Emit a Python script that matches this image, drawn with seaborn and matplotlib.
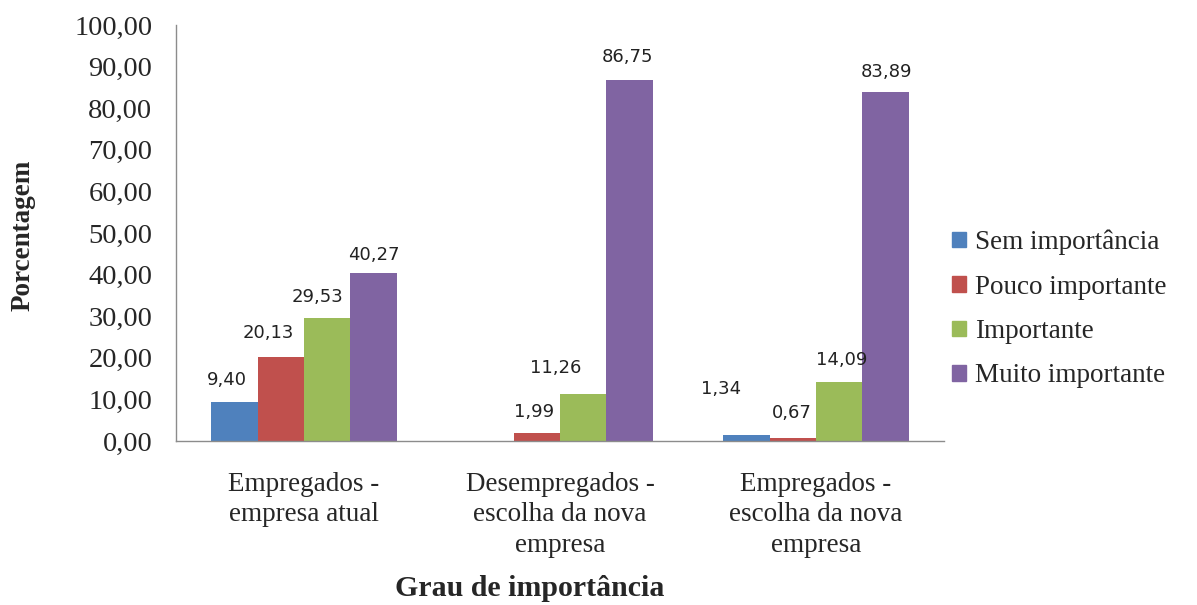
import matplotlib
matplotlib.use("Agg")
import matplotlib.pyplot as plt
import seaborn as sns
import pandas as pd

# Survey groups and importance levels
categories = ["Empregados -\nempresa atual",
              "Desempregados -\nescolha da nova\nempresa",
              "Empregados -\nescolha da nova\nempresa"]
levels = ["Sem importância", "Pouco importante", "Importante", "Muito importante"]

sem_importancia = [9.40, 0.00, 1.34]
pouco_importante = [20.13, 1.99, 0.67]
importante = [29.53, 11.26, 14.09]
muito_importante = [40.27, 86.75, 83.89]

y_ticks = [0, 10, 20, 30, 40, 50, 60, 70, 80, 90, 100]

colors = ["#4F81BD", "#C0504D", "#9BBB59", "#8064A2"]

rows = []
for level, values in zip(levels, [sem_importancia, pouco_importante,
                                  importante, muito_importante]):
    for cat, v in zip(categories, values):
        rows.append({"Grupo": cat, "Nível": level, "Porcentagem": v})
df = pd.DataFrame(rows)

sns.set_style("white")
plt.rcParams["font.family"] = ["Liberation Serif", "DejaVu Serif"]

fig = plt.figure(figsize=(11.97, 6.05), dpi=100)
ax = fig.add_axes([176 / 1197, 1 - 441 / 605, (944 - 176) / 1197, (441 - 25) / 605])

sns.barplot(data=df, x="Grupo", y="Porcentagem", hue="Nível",
            order=categories, hue_order=levels, palette=colors,
            width=0.725, linewidth=0, saturation=1, ax=ax, legend=False)

ax.set_ylim(0, 100)
ax.set_xlim(-0.5, 2.5)
ax.set_yticks(y_ticks)
ax.set_yticklabels([f"{t:.2f}".replace(".", ",") for t in y_ticks], fontsize=20.5)

# category boundary ticks on the x axis, labels at the centres
ax.set_xticks([-0.5, 0.5, 1.5, 2.5])
ax.set_xticklabels([])
ax.set_xticks([0, 1, 2], minor=True)
ax.set_xticklabels(categories, minor=True, fontsize=19.5, linespacing=1.3)
ax.tick_params(axis="x", which="minor", length=0, pad=22)
ax.tick_params(axis="x", which="major", length=7, color="#8c8c8c", width=1)
ax.tick_params(axis="y", length=6, color="#8c8c8c", width=1, pad=11)

for side in ["top", "right"]:
    ax.spines[side].set_visible(False)
for side in ["left", "bottom"]:
    ax.spines[side].set_color("#8c8c8c")
    ax.spines[side].set_linewidth(1)

ax.set_xlabel("")
ax.set_ylabel("")
fig.text(23 / 1197, 1 - 235 / 605, "Porcentagem", rotation=90, fontsize=19.5,
         fontweight="bold", ha="center", va="center")
fig.text(530 / 1197, 1 - 588 / 605, "Grau de importância", fontsize=21.5,
         fontweight="bold", ha="center", va="center")

# value labels (pixel offsets from the top centre of each bar)
label_offsets = {
    (0, 0): (-8, 22), (0, 1): (-12, 24), (0, 2): (-10, 21), (0, 3): (0, 18),
    (1, 1): (-3, 21), (1, 2): (-28, 26), (1, 3): (-2, 23),
    (2, 0): (-25, 46), (2, 1): (-1, 25), (2, 2): (2, 22), (2, 3): (1, 20),
}
for li, container in enumerate(ax.containers):
    for ci, bar in enumerate(container):
        v = bar.get_height()
        if v <= 0:
            continue
        dx, dy = label_offsets.get((ci, li), (0, 22))
        ax.annotate(f"{v:.2f}".replace(".", ","),
                    (bar.get_x() + bar.get_width() / 2, v),
                    xytext=(dx, dy), textcoords="offset pixels",
                    ha="center", va="center", fontsize=13,
                    family="DejaVu Sans", color="#222222")

handles = [plt.Rectangle((0, 0), 1, 1, color=c) for c in colors]
fig.legend(handles, levels, loc="center left",
           bbox_to_anchor=(944 / 1197, 1 - 309 / 605), frameon=False,
           fontsize=19.5, handlelength=0.5, handleheight=0.5,
           handletextpad=0.35, labelspacing=0.72, borderaxespad=0, borderpad=0.3)

fig.savefig("out.png", dpi=100, facecolor="white")
